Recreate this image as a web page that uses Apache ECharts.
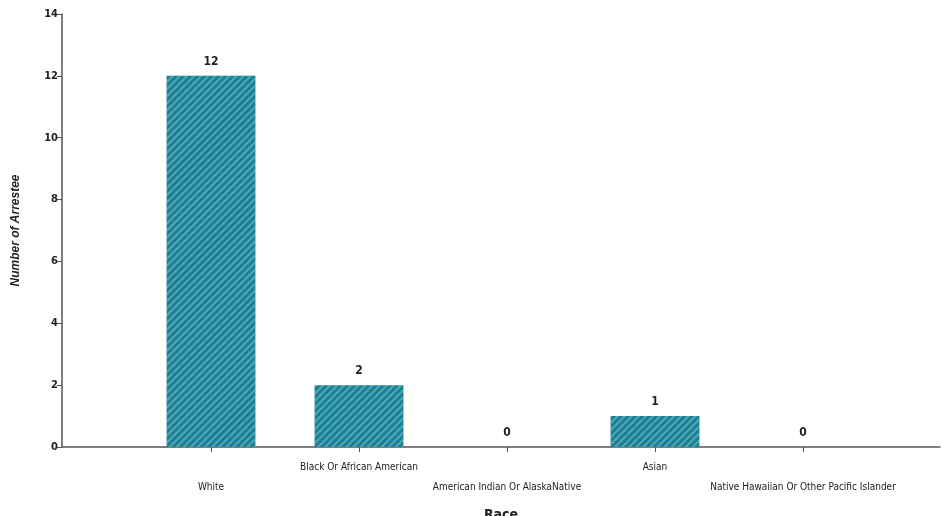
<!DOCTYPE html>
<html><head><meta charset="utf-8">
<script src="https://cdn.jsdelivr.net/npm/echarts@6/dist/echarts.min.js"></script>
<style>html,body{margin:0;padding:0;background:#fff}#c{width:942px;height:516px}</style>
</head><body><div id="c"></div>
<script>
const categories = ["White", "Black Or African American", "American Indian Or AlaskaNative", "Asian", "Native Hawaiian Or Other Pacific Islander"];
const arrestees = [12, 2, 0, 1, 0];
const yTicks = { min: 0, max: 14, interval: 2 };
const xTitle = "Race";
const yTitle = "Number of Arrestee";

const font = '"Liberation Sans Narrow", "Arial Narrow", "DejaVu Sans Condensed", "Liberation Sans", sans-serif';
const chart = echarts.init(document.getElementById('c'));
chart.setOption({
  animation: false,
  backgroundColor: '#fff',
  grid: [
    { left: 62, right: 2, top: 14, bottom: 69, outerBoundsMode: 'none', containLabel: false },
    { left: 137, width: 740, top: 14, bottom: 69, outerBoundsMode: 'none', containLabel: false }
  ],
  xAxis: [
    { gridIndex: 0, type: 'value', min: 0, max: 1, show: true,
      axisLine: { show: true, lineStyle: { color: '#555', width: 1.5 } },
      axisTick: { show: false }, axisLabel: { show: false }, splitLine: { show: false },
      name: xTitle, nameLocation: 'middle', nameGap: 61,
      nameTextStyle: { fontFamily: font, fontWeight: 'bold', fontSize: 14, color: '#222' } },
    { gridIndex: 1, type: 'category', data: categories,
      axisLine: { show: false },
      axisTick: { show: true, alignWithLabel: true, length: 5, lineStyle: { color: '#555' } },
      axisLabel: { interval: 0, margin: 10, fontFamily: font, fontSize: 10, color: '#222', lineHeight: 20,
        formatter: (v, i) => (i % 2 === 1 ? v : '\n' + v) } }
  ],
  yAxis: [
    { gridIndex: 0, type: 'value', min: yTicks.min, max: yTicks.max, interval: yTicks.interval,
      axisLine: { show: true, lineStyle: { color: '#555', width: 1.5 } },
      axisTick: { show: true, length: 5, lineStyle: { color: '#555' } },
      axisLabel: { fontFamily: font, fontSize: 11, fontWeight: 'bold', color: '#222', margin: 4 },
      splitLine: { show: false },
      name: yTitle, nameLocation: 'middle', nameGap: 40,
      nameTextStyle: { fontFamily: '"Liberation Sans", Arial, sans-serif', fontWeight: 'bold', fontStyle: 'italic', fontSize: 12, color: '#222' } },
    { gridIndex: 1, type: 'value', min: yTicks.min, max: yTicks.max, interval: yTicks.interval, show: false }
  ],
  series: [{
    type: 'bar', xAxisIndex: 1, yAxisIndex: 1, data: arrestees, barWidth: '60%',
    itemStyle: {
      color: '#1c8095',
      decal: { symbol: 'rect', dashArrayX: [1, 0], dashArrayY: [2, 3], rotation: -Math.PI / 4, color: 'rgba(130,205,218,0.5)' }
    },
    label: { show: true, position: 'top', distance: 8, fontFamily: font, fontWeight: 'bold', fontSize: 12, color: '#222' }
  }]
});
</script></body></html>
